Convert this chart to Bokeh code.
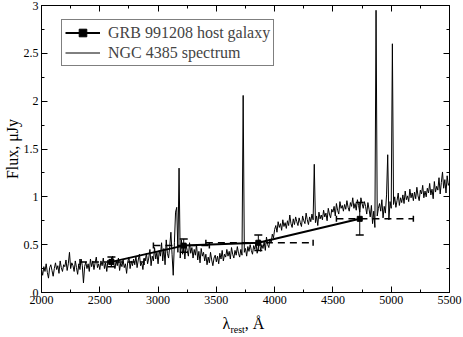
import numpy as np
from bokeh.plotting import figure
from bokeh.layouts import column
from bokeh.models import (LinearAxis, Range1d, Whisker, ColumnDataSource, Div,
                          Legend, LegendItem, FixedTicker, TeeHead)
from bokeh.embed import file_html
from bokeh.resources import INLINE

# ---- data ----
spec_start = 2000
spec_step = 10
spec_flux = [
    0.24, 0.18, 0.27, 0.22, 0.30, 0.21, 0.15, 0.26, 0.29, 0.23,
    0.17, 0.25, 0.31, 0.24, 0.28, 0.20, 0.33, 0.26, 0.22, 0.29,
    0.27, 0.34, 0.23, 0.30, 0.42, 0.25, 0.31, 0.28, 0.22, 0.33,
    0.26, 0.19, 0.30, 0.24, 0.35, 0.28, 0.10, 0.27, 0.32, 0.25,
    0.30, 0.22, 0.35, 0.27, 0.33, 0.24, 0.31, 0.37, 0.26, 0.30,
    0.24, 0.33, 0.28, 0.36, 0.25, 0.31, 0.22, 0.34, 0.29, 0.35,
    0.27, 0.38, 0.30, 0.25, 0.33, 0.28, 0.36, 0.23, 0.31, 0.27,
    0.34, 0.26, 0.30, 0.20, 0.32, 0.37, 0.25, 0.33, 0.28, 0.35,
    0.29, 0.38, 0.26, 0.34, 0.40, 0.28, 0.31, 0.24, 0.36, 0.33,
    0.41, 0.30, 0.36, 0.45, 0.28, 0.38, 0.33, 0.47, 0.35, 0.42,
    0.30, 0.44, 0.38, 0.52, 0.33, 0.46, 0.29, 0.55, 0.41, 0.36,
    0.48, 0.63, 0.40, 0.18, 0.52, 0.84, 0.89, 0.42, 1.30, 0.36,
    0.55, 0.40, 0.48, 0.35, 0.50, 0.44, 0.38, 0.52, 0.41, 0.47,
    0.36, 0.45, 0.39, 0.50, 0.34, 0.43, 0.31, 0.46, 0.38, 0.42,
    0.33, 0.40, 0.29, 0.37, 0.31, 0.42, 0.34, 0.28, 0.36, 0.39,
    0.32, 0.38, 0.30, 0.41, 0.35, 0.44, 0.33, 0.40, 0.37, 0.45,
    0.38, 0.43, 0.35, 0.47, 0.40, 0.36, 0.44, 0.39, 0.48, 0.41,
    0.37, 0.45, 0.39, 2.06, 0.42, 0.46, 0.38, 0.48, 0.43, 0.50,
    0.44, 0.40, 0.49, 0.45, 0.52, 0.41, 0.47, 0.55, 0.43, 0.50,
    0.46, 0.53, 0.44, 0.58, 0.50, 0.47, 0.56, 0.52, 0.61, 0.57,
    0.66, 0.70, 0.63, 0.74, 0.68, 0.72, 0.65, 0.76, 0.69, 0.73,
    0.67, 0.75, 0.70, 0.81, 0.72, 0.68, 0.77, 0.71, 0.79, 0.74,
    0.70, 0.78, 0.73, 0.69, 0.80, 0.75, 0.72, 0.83, 0.76, 0.71,
    0.79, 0.74, 0.82, 0.76, 1.34, 0.73, 0.80, 0.70, 0.84, 0.77,
    0.81, 0.76, 0.86, 0.79, 0.83, 0.75, 0.88, 0.82, 0.78, 0.87,
    0.84, 0.90, 0.80, 0.93, 0.86, 0.82, 0.95, 0.88, 0.91, 0.85,
    0.92, 0.87, 0.96, 0.89, 0.85, 0.94, 0.90, 0.99, 0.88, 0.93,
    0.86, 0.97, 0.91, 0.84, 0.99, 0.93, 0.88, 0.95, 0.90, 0.82,
    0.94, 0.87, 0.79, 0.91, 0.72, 0.85, 0.68, 2.95, 0.80, 0.88,
    0.93, 0.85, 0.97, 0.78, 0.90, 0.83, 1.02, 1.44, 0.76, 0.95,
    0.88, 2.60, 0.92, 1.00, 0.89, 0.96, 1.04, 0.91, 0.99, 0.94,
    1.02, 0.93, 1.06, 0.97, 1.01, 0.95, 1.08, 0.99, 1.04, 0.96,
    1.05, 0.98, 1.10, 1.01, 0.96, 1.07, 1.03, 1.12, 0.99, 1.06,
    1.00, 1.09, 1.04, 1.14, 1.02, 1.08, 0.98, 1.16, 1.05, 1.11,
    1.07, 1.20, 1.03, 1.15, 1.26, 1.09, 1.18, 1.04, 1.22, 1.12,
    1.15,
]
spec_wave = spec_start + spec_step * np.arange(len(spec_flux))

grb_wave = [2600, 3220, 3860, 4730]
grb_flux = [0.32, 0.49, 0.52, 0.77]
grb_flux_err = [0.05, 0.07, 0.08, 0.17]
grb_wave_lo = [2330, 2960, 3410, 4530]
grb_wave_hi = [2880, 3440, 4330, 5190]

x_ticks = [2000, 2500, 3000, 3500, 4000, 4500, 5000, 5500]
x_minor = [2250, 2750, 3250, 3750, 4250, 4750, 5250]
y_ticks = [0, 0.5, 1, 1.5, 2, 2.5, 3]
y_minor = [0.25, 0.75, 1.25, 1.75, 2.25, 2.75]
y_tick_labels = ["0", "0.5", "1", "1.5", "2", "2.5", "3"]

FONT = "Liberation Serif"

p = figure(width=463, height=310, x_range=Range1d(2000, 5500), y_range=Range1d(0, 3),
           output_backend="svg", toolbar_location=None,
           x_axis_type=None, y_axis_type=None,
           min_border_left=33, min_border_right=14, min_border_top=5, min_border_bottom=18)
p.outline_line_color = "black"
p.background_fill_color = "white"
p.border_fill_color = "white"
p.margin = 0


def style_axis(ax, ticks, minor, show_labels, overrides=None):
    ax.ticker = FixedTicker(ticks=ticks, minor_ticks=minor)
    ax.major_tick_in = 6
    ax.major_tick_out = 0
    ax.minor_tick_in = 3
    ax.minor_tick_out = 0
    ax.axis_line_color = "black"
    ax.major_tick_line_color = "black"
    ax.minor_tick_line_color = "black"
    ax.major_label_text_font = FONT
    ax.major_label_text_color = "black"
    if show_labels:
        ax.major_label_text_font_size = "12px"
        ax.major_label_standoff = 3
        if overrides:
            ax.major_label_overrides = overrides
    else:
        ax.major_label_text_font_size = "0px"
        ax.major_label_standoff = 0
        ax.major_label_overrides = {t: "" for t in ticks}


xb = LinearAxis()
style_axis(xb, x_ticks, x_minor, True)
xt = LinearAxis()
style_axis(xt, x_ticks, x_minor, False)
yl = LinearAxis(axis_label="Flux, μJy")
style_axis(yl, y_ticks, y_minor, True, dict(zip(y_ticks, y_tick_labels)))
yl.axis_label_text_font = FONT
yl.axis_label_text_font_style = "normal"
yl.axis_label_text_font_size = "16px"
yl.axis_label_text_color = "black"
yl.axis_label_standoff = 0
yr = LinearAxis()
style_axis(yr, y_ticks, y_minor, False)
p.add_layout(xb, "below")
p.add_layout(xt, "above")
p.add_layout(yl, "left")
p.add_layout(yr, "right")

spec_r = p.line(spec_wave, spec_flux, line_color="black", line_width=1)

src = ColumnDataSource(dict(
    x=grb_wave, y=grb_flux,
    lower=[f - e for f, e in zip(grb_flux, grb_flux_err)],
    upper=[f + e for f, e in zip(grb_flux, grb_flux_err)],
    xlo=grb_wave_lo, xhi=grb_wave_hi,
))
wy = Whisker(source=src, base="x", lower="lower", upper="upper", dimension="height",
             line_color="black", line_width=1, level="overlay",
             upper_head=TeeHead(size=8, line_color="black", line_width=1.5),
             lower_head=TeeHead(size=8, line_color="black", line_width=1.5))
wx = Whisker(source=src, base="y", lower="xlo", upper="xhi", dimension="width",
             line_color="black", line_width=1.5, line_dash="7 5", level="overlay",
             upper_head=TeeHead(size=6, line_color="black", line_width=1.5),
             lower_head=TeeHead(size=6, line_color="black", line_width=1.5))
p.add_layout(wy)
p.add_layout(wx)

grb_line = p.line(grb_wave, grb_flux, line_color="black", line_width=2)
grb_pts = p.scatter(grb_wave, grb_flux, marker="square", size=5, color="black")

legend = Legend(items=[
    LegendItem(label="GRB 991208 host galaxy", renderers=[grb_line, grb_pts]),
    LegendItem(label="NGC 4385 spectrum", renderers=[spec_r]),
], location=(20, 226))
legend.border_line_color = "black"
legend.border_line_width = 1
legend.label_text_font = FONT
legend.label_text_font_size = "16px"
legend.glyph_width = 35
legend.glyph_height = 19
legend.label_height = 19
legend.label_standoff = 8
legend.padding = 3
legend.spacing = 1
legend.margin = 0
legend.background_fill_alpha = 1
p.add_layout(legend)

xlabel = Div(text='λ<sub style="font-size:10px">rest</sub>, Å',
             width=463, height=27, margin=0,
             styles={"font-family": FONT, "font-size": "16px", "color": "black",
                     "text-align": "center", "padding-left": "24px",
                     "padding-top": "3px"})

layout = column(p, xlabel, spacing=0)
open("out.html", "w").write(file_html(layout, INLINE))
